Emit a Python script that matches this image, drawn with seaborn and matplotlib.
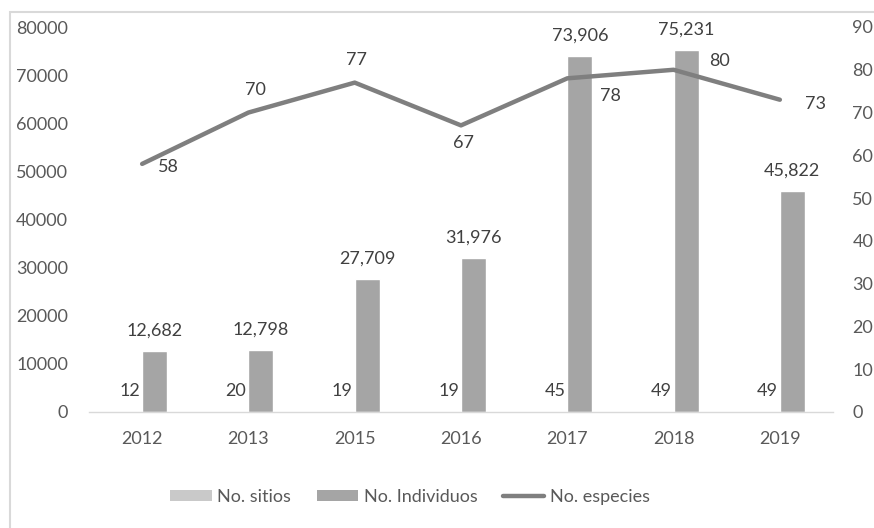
import matplotlib
matplotlib.use("Agg")
import matplotlib.pyplot as plt
import seaborn as sns
import pandas as pd
import numpy as np
from matplotlib.patches import Rectangle, Patch
from matplotlib.lines import Line2D

years = ["2012", "2013", "2015", "2016", "2017", "2018", "2019"]
sitios = [12, 20, 19, 19, 45, 49, 49]
individuos = [12682, 12798, 27709, 31976, 73906, 75231, 45822]
especies = [58, 70, 77, 67, 78, 80, 73]
series_names = ["No. sitios", "No. Individuos", "No. especies"]
left_ticks = [0, 10000, 20000, 30000, 40000, 50000, 60000, 70000, 80000]
right_ticks = [0, 10, 20, 30, 40, 50, 60, 70, 80, 90]

sns.set_theme(style="white")
plt.rcParams["font.family"] = ["Lato", "DejaVu Sans"]

C_SIT = "#c9c9c9"
C_IND = "#a5a5a5"
C_LINE = "#7f7f7f"
TXT = "#595959"
LBL = "#404040"
FS = 13

df = pd.DataFrame({
    "year": years * 2,
    "series": [series_names[0]] * len(years) + [series_names[1]] * len(years),
    "value": sitios + individuos,
})

fig = plt.figure(figsize=(8.74, 5.28), dpi=100)
ax = fig.add_axes([89 / 874, 1 - 412 / 528, (833 - 89) / 874, (412 - 27) / 528])

sns.barplot(data=df, x="year", y="value", hue="series",
            palette=[C_SIT, C_IND], width=0.47, ax=ax,
            saturation=1, legend=False, errorbar=None)
ax.set_xlim(-0.5, len(years) - 0.5)
ax.set_ylim(0, 80000)
ax.set_yticks(left_ticks)
ax.set_yticklabels([str(t) for t in left_ticks])
ax.set_xlabel("")
ax.set_ylabel("")
for s in ["top", "left", "right"]:
    ax.spines[s].set_visible(False)
ax.spines["bottom"].set_color("#d9d9d9")
ax.spines["bottom"].set_linewidth(1.0)
ax.tick_params(axis="y", length=0, pad=15, labelsize=FS, labelcolor=TXT)
ax.tick_params(axis="x", length=0, pad=14, labelsize=FS, labelcolor=TXT)

# bar labels
for cont in ax.containers:
    for rect in cont:
        v = rect.get_height()
        txt = f"{int(round(v)):,}"
        ax.annotate(txt, (rect.get_x() + rect.get_width() / 2, v),
                    xytext=(0, 9), textcoords="offset points",
                    ha="center", va="bottom", fontsize=FS, color=LBL)

ax2 = ax.twinx()
ax2.set_position(ax.get_position())
xs = np.arange(len(years))
sns.lineplot(x=xs, y=especies, ax=ax2, color=C_LINE, linewidth=3.2,
             legend=False, solid_capstyle="round")
ax2.set_ylim(0, 90)
ax2.set_yticks(right_ticks)
ax2.set_yticklabels([str(t) for t in right_ticks])
ax2.set_xlim(-0.5, len(years) - 0.5)
for s in ["top", "left", "right", "bottom"]:
    ax2.spines[s].set_visible(False)
ax2.tick_params(axis="y", length=0, pad=14, labelsize=FS, labelcolor=TXT)
ax2.set_ylabel("")

offsets = [(19, -2), (5, 16), (1, 16), (2, -13), (31, -13), (33, 6), (26, -3)]
for x, v, (dx, dy) in zip(xs, especies, offsets):
    ax2.annotate(str(v), (x, v), xytext=(dx, dy), textcoords="offset points",
                 ha="center", va="center", fontsize=FS, color=LBL)

handles = [Patch(facecolor=C_SIT, edgecolor="none"),
           Patch(facecolor=C_IND, edgecolor="none"),
           Line2D([0], [0], color=C_LINE, linewidth=3.2)]
leg = fig.legend(handles, series_names, loc="center", ncol=3,
                 bbox_to_anchor=(410 / 874, 1 - 497 / 528), frameon=False,
                 fontsize=FS, handlelength=2.3, handleheight=0.6,
                 handletextpad=0.3, columnspacing=1.4)
for t in leg.get_texts():
    t.set_color(TXT)

fig.patches.append(Rectangle((10 / 874, -0.1), 1.2, 1 - 12 / 528 + 0.1,
                             transform=fig.transFigure, fill=False,
                             edgecolor="#d9d9d9", linewidth=1.5, zorder=0))

fig.savefig("out.png", dpi=100)
